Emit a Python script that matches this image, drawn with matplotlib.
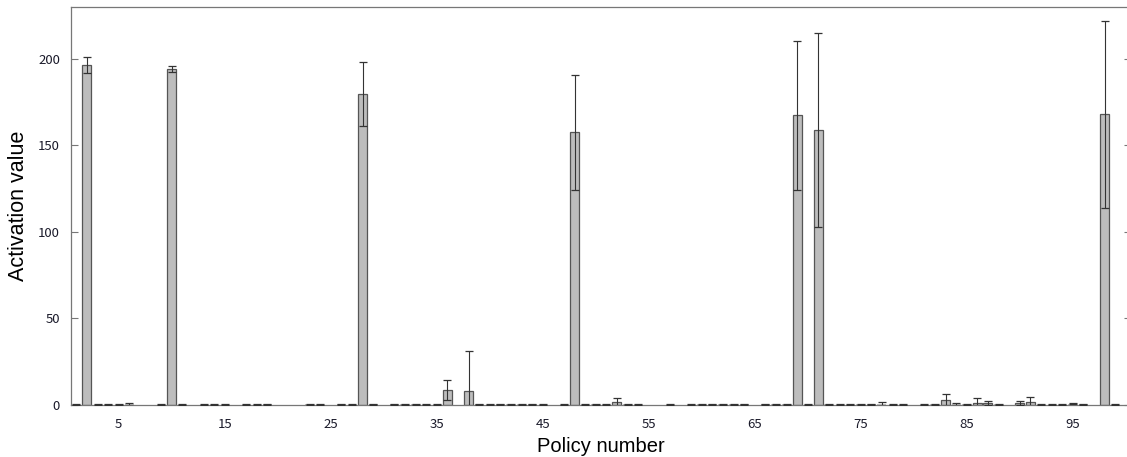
import numpy as np
import matplotlib
matplotlib.use("Agg")
import matplotlib.pyplot as plt

plt.rcParams['font.family'] = ['Noto Sans CJK JP', 'DejaVu Sans']

policies = np.arange(1, 101)
nan = np.nan
# activation means (NaN = no mark drawn)
values = [
    0.2, 196.5, 0.2, 0.2, 0.2, 0.5, nan, nan, 0.2, 194.0,      # 1-10
    0.2, nan, 0.2, 0.2, 0.2, nan, 0.2, 0.2, 0.3, nan,          # 11-20
    nan, nan, 0.3, 0.2, nan, 0.3, 0.2, 180.0, 0.3, nan,        # 21-30
    0.4, 0.3, 0.3, 0.2, 0.2, 8.7, nan, 8.1, 0.4, 0.2,          # 31-40
    0.3, 0.3, 0.3, 0.4, 0.2, nan, 0.2, 157.5, 0.2, 0.3,        # 41-50
    0.2, 1.5, 0.3, 0.2, nan, nan, 0.2, nan, 0.2, 0.3,          # 51-60
    0.3, 0.3, 0.3, 0.3, nan, 0.3, 0.3, 0.3, 167.5, 0.2,        # 61-70
    159.0, 0.3, 0.2, 0.2, 0.3, 0.3, 0.5, 0.2, 0.2, nan,        # 71-80
    0.2, 0.3, 2.7, 0.4, 0.3, 1.2, 1.2, 0.3, nan, 1.2,          # 81-90
    1.5, 0.2, 0.2, 0.2, 0.8, 0.3, nan, 168.0, 0.2, nan,        # 91-100
]
errors = [
    0.2, 4.7, 0.2, 0.2, 0.2, 0.8, nan, nan, 0.2, 1.7,
    0.2, nan, 0.2, 0.2, 0.2, nan, 0.2, 0.2, 0.4, nan,
    nan, nan, 0.3, 0.2, nan, 0.3, 0.2, 18.5, 0.3, nan,
    0.3, 0.3, 0.3, 0.2, 0.2, 5.8, nan, 23.3, 0.3, 0.2,
    0.3, 0.3, 0.3, 0.3, 0.2, nan, 0.2, 33.0, 0.2, 0.3,
    0.2, 2.4, 0.3, 0.2, nan, nan, 0.2, nan, 0.2, 0.3,
    0.3, 0.3, 0.3, 0.3, nan, 0.3, 0.3, 0.3, 43.0, 0.2,
    56.0, 0.3, 0.2, 0.2, 0.3, 0.3, 1.0, 0.2, 0.2, nan,
    0.2, 0.3, 3.5, 1.0, 0.3, 2.6, 1.3, 0.3, nan, 1.3,
    2.9, 0.2, 0.2, 0.2, 0.3, 0.3, nan, 54.0, 0.2, nan,
]
xtick_values = [5, 15, 25, 35, 45, 55, 65, 75, 85, 95]
ytick_values = [0, 50, 100, 150, 200]

W, H = 1127, 457
fig = plt.figure(figsize=(W / 100, H / 100), dpi=100)
ax = fig.add_axes([71 / W, 1 - 405 / H, (1131 - 71) / W, (405 - 7) / H])

vals = np.array(values, dtype=float)
errs = np.array(errors, dtype=float)
mask = ~np.isnan(vals)
edge_w = np.where(vals[mask] >= 1.0, 0.9, 0.0)
ax.bar(policies[mask], vals[mask], width=0.85, color='#bdbdbd',
       edgecolor='#555555', linewidth=edge_w, zorder=2)
ax.errorbar(policies[mask], vals[mask], yerr=errs[mask], fmt='none',
            ecolor='#333333', elinewidth=0.8, capsize=3, capthick=0.9, zorder=3)

ax.set_xlim(0.5, 100.5)
ax.set_ylim(0, 230)
ax.set_xticks(xtick_values)
ax.set_yticks(ytick_values)
ax.tick_params(axis='x', length=0, pad=9, labelsize=9.5, labelcolor='#1a1a2a')
ax.tick_params(axis='y', direction='in', length=5, right=True, labelsize=9.5,
               labelcolor='#1a1a2a', color='#777777', pad=8)
for s in ax.spines.values():
    s.set_color('#777777')
    s.set_linewidth(0.9)

ax.set_xlabel('Policy number', fontsize=14.5, family='Liberation Sans')
ax.set_ylabel('Activation value', fontsize=15.5, family='Liberation Sans')
ax.xaxis.set_label_coords((601 - 71) / 1060, (405 - 446) / 398)
ax.yaxis.set_label_coords((19 - 71) / 1060, (405 - 206) / 398)
ax.xaxis.label.set_verticalalignment('center')
ax.yaxis.label.set_verticalalignment('center')

fig.savefig('out.png', dpi=100)
